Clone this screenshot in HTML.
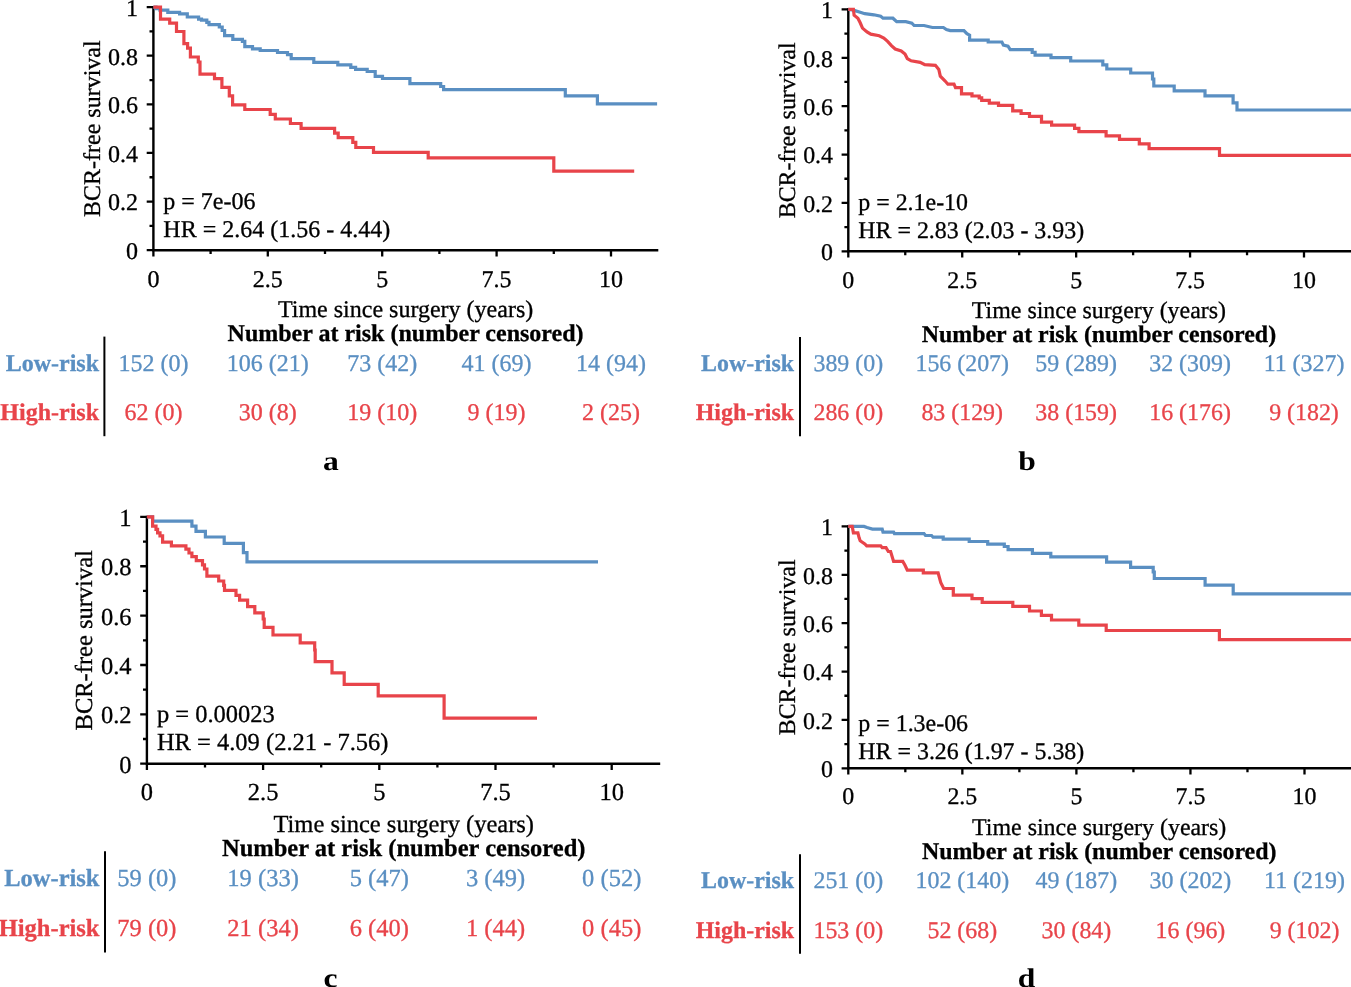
<!DOCTYPE html>
<html><head><meta charset="utf-8"><style>
html,body{margin:0;padding:0;background:#fff;}
svg{display:block;will-change:transform;}
text{font-family:"Liberation Serif", serif;fill:#000;stroke:#000;stroke-width:0.3px;text-rendering:geometricPrecision;}
.lt{font-size:27px;font-weight:bold;stroke-width:0;}
.bl{fill:#5a8fc2;stroke:#5a8fc2;}
.rd{fill:#e8444a;stroke:#e8444a;}
.ax{fill:none;stroke:#000;stroke-width:2.4;stroke-linecap:butt;stroke-linejoin:miter;}
.tk{fill:none;stroke:#000;stroke-width:2.3;}
.dv{fill:none;stroke:#000;stroke-width:2;}
.cv{fill:none;stroke-width:3.2;stroke-linejoin:miter;stroke-linecap:butt;}
</style></head><body>
<svg width="1351" height="987" viewBox="0 0 1351 987">
<rect width="1351" height="987" fill="#fff"/>
<g style="font-size:24px"><path d="M153.4 5.95V250.2H658.3" class="ax"/><path d="M146.7 250.2H153.4M149.5 225.89H153.4M146.7 201.58H153.4M149.5 177.27H153.4M146.7 152.96H153.4M149.5 128.65H153.4M146.7 104.34H153.4M149.5 80.03H153.4M146.7 55.72H153.4M149.5 31.41H153.4M146.7 7.1H153.4M153.4 250.2V256.5M210.6 250.2V254.1M267.8 250.2V256.5M325 250.2V254.1M382.2 250.2V256.5M439.4 250.2V254.1M496.6 250.2V256.5M553.8 250.2V254.1M611 250.2V256.5" class="tk"/><text x="138.1" y="259.1" text-anchor="end">0</text><text x="138.1" y="210.48" text-anchor="end">0.2</text><text x="138.1" y="161.86" text-anchor="end">0.4</text><text x="138.1" y="113.24" text-anchor="end">0.6</text><text x="138.1" y="64.62" text-anchor="end">0.8</text><text x="138.1" y="16" text-anchor="end">1</text><text x="153.4" y="286.7" text-anchor="middle">0</text><text x="267.8" y="286.7" text-anchor="middle">2.5</text><text x="382.2" y="286.7" text-anchor="middle">5</text><text x="496.6" y="286.7" text-anchor="middle">7.5</text><text x="611" y="286.7" text-anchor="middle">10</text><text x="405.58" y="317" text-anchor="middle">Time since surgery (years)</text><text x="405.58" y="341" text-anchor="middle" font-weight="bold">Number at risk (number censored)</text><text transform="translate(99.9 128.65) rotate(-90)" text-anchor="middle">BCR-free survival</text><text x="163.3" y="208.9">p = 7e-06</text><text x="163.3" y="236.7">HR = 2.64 (1.56 - 4.44)</text><text x="99" y="370.6" text-anchor="end" font-weight="bold" class="bl">Low-risk</text><text x="99" y="420.2" text-anchor="end" font-weight="bold" class="rd">High-risk</text><text x="153.4" y="370.6" text-anchor="middle" class="bl">152 (0)</text><text x="153.4" y="420.2" text-anchor="middle" class="rd">62 (0)</text><text x="267.8" y="370.6" text-anchor="middle" class="bl">106 (21)</text><text x="267.8" y="420.2" text-anchor="middle" class="rd">30 (8)</text><text x="382.2" y="370.6" text-anchor="middle" class="bl">73 (42)</text><text x="382.2" y="420.2" text-anchor="middle" class="rd">19 (10)</text><text x="496.6" y="370.6" text-anchor="middle" class="bl">41 (69)</text><text x="496.6" y="420.2" text-anchor="middle" class="rd">9 (19)</text><text x="611" y="370.6" text-anchor="middle" class="bl">14 (94)</text><text x="611" y="420.2" text-anchor="middle" class="rd">2 (25)</text><path d="M104.4 336.6V436.2" class="dv"/><text transform="translate(331 469.8) scale(1.17 1)" text-anchor="middle" class="lt">a</text><path d="M153.4,7.1 156,7.1 156,8.7 160,8.7 160,10.2 167.8,10.2 167.8,12.3 179.6,12.3 179.6,13.9 187.3,13.9 187.3,17 198.6,17 198.6,19.2 201.5,19.2 201.5,20.1 206.8,20.1 206.8,22.3 209,22.3 209,24.6 219.3,24.6 219.3,27 222.2,27 222.2,30.5 224.6,30.5 224.6,35.6 232.8,35.6 232.8,39.3 242.4,39.3 242.4,41.4 244.8,41.4 244.8,46.7 252.5,46.7 252.5,48.9 260.2,48.9 260.2,50.5 277.5,50.5 277.5,52.5 287.5,52.5 287.5,54.7 291.2,54.7 291.2,58.6 313.8,58.6 313.8,62.4 337.8,62.4 337.8,64.8 350.8,64.8 350.8,67.3 355.6,67.3 355.6,69.3 367.2,69.3 367.2,71.5 375.2,71.5 375.2,76.3 382.5,76.3 382.5,78.5 409.9,78.5 409.9,83.7 440.7,83.7 440.7,86.5 443.6,86.5 443.6,89.6 565.3,89.6 565.3,95.9 597.4,95.9 597.4,103.8 657.1,103.8" class="cv" stroke="#5a8fc2"/><path d="M153.4,7.1 160.5,7.1 160.5,19.1 169.7,19.1 169.7,23.1 176.5,23.1 176.5,31.5 183.9,31.5 183.9,43.7 187.6,43.7 187.6,48.1 190.4,48.1 190.4,57 198.3,57 198.3,62 200,62 200,74.1 214.5,74.1 214.5,78.7 221.9,78.7 221.9,87.4 229.3,87.4 229.3,95.9 232.6,95.9 232.6,104.8 244.8,104.8 244.8,109.5 270.2,109.5 270.2,114.4 275.3,114.4 275.3,119 290.4,119 290.4,123.5 301.1,123.5 301.1,128.3 334.6,128.3 334.6,133.2 338.2,133.2 338.2,137.7 352.8,137.7 352.8,142.4 355.8,142.4 355.8,147.5 373.5,147.5 373.5,152.4 428.2,152.4 428.2,157.9 553.8,157.9 553.8,171.1 634.2,171.1" class="cv" stroke="#e8444a"/></g><g style="font-size:23.9px"><path d="M848.3 8.25V251.3H1352" class="ax"/><path d="M841.6 251.3H848.3M844.4 227.11H848.3M841.6 202.92H848.3M844.4 178.73H848.3M841.6 154.54H848.3M844.4 130.35H848.3M841.6 106.16H848.3M844.4 81.97H848.3M841.6 57.78H848.3M844.4 33.59H848.3M841.6 9.4H848.3M848.3 251.3V257.6M905.26 251.3V255.2M962.22 251.3V257.6M1019.19 251.3V255.2M1076.15 251.3V257.6M1133.11 251.3V255.2M1190.07 251.3V257.6M1247.04 251.3V255.2M1304 251.3V257.6" class="tk"/><text x="833" y="260.2" text-anchor="end">0</text><text x="833" y="211.82" text-anchor="end">0.2</text><text x="833" y="163.44" text-anchor="end">0.4</text><text x="833" y="115.06" text-anchor="end">0.6</text><text x="833" y="66.68" text-anchor="end">0.8</text><text x="833" y="18.3" text-anchor="end">1</text><text x="848.3" y="287.7" text-anchor="middle">0</text><text x="962.22" y="287.7" text-anchor="middle">2.5</text><text x="1076.15" y="287.7" text-anchor="middle">5</text><text x="1190.07" y="287.7" text-anchor="middle">7.5</text><text x="1304" y="287.7" text-anchor="middle">10</text><text x="1098.93" y="318" text-anchor="middle">Time since surgery (years)</text><text x="1098.93" y="342" text-anchor="middle" font-weight="bold">Number at risk (number censored)</text><text transform="translate(794.8 130.35) rotate(-90)" text-anchor="middle">BCR-free survival</text><text x="858.3" y="209.9">p = 2.1e-10</text><text x="858.3" y="237.7">HR = 2.83 (2.03 - 3.93)</text><text x="794" y="370.9" text-anchor="end" font-weight="bold" class="bl">Low-risk</text><text x="794" y="420" text-anchor="end" font-weight="bold" class="rd">High-risk</text><text x="848.3" y="370.9" text-anchor="middle" class="bl">389 (0)</text><text x="848.3" y="420" text-anchor="middle" class="rd">286 (0)</text><text x="962.22" y="370.9" text-anchor="middle" class="bl">156 (207)</text><text x="962.22" y="420" text-anchor="middle" class="rd">83 (129)</text><text x="1076.15" y="370.9" text-anchor="middle" class="bl">59 (289)</text><text x="1076.15" y="420" text-anchor="middle" class="rd">38 (159)</text><text x="1190.07" y="370.9" text-anchor="middle" class="bl">32 (309)</text><text x="1190.07" y="420" text-anchor="middle" class="rd">16 (176)</text><text x="1304" y="370.9" text-anchor="middle" class="bl">11 (327)</text><text x="1304" y="420" text-anchor="middle" class="rd">9 (182)</text><path d="M800 337V436.2" class="dv"/><text transform="translate(1027 469.8) scale(1.17 1)" text-anchor="middle" class="lt">b</text><path d="M848.3,9.4 852,10 854.9,10.6 860.2,12.2 864.8,13.7 873.9,14.8 880.7,16.3 883,18.2 892.9,18.2 896.7,21.7 905.8,21.7 911.9,23.2 914.1,25.5 924,25.5 932.4,27.5 943.4,27.5 946.4,29.5 950.2,30.6 963.9,30.6 966.9,33.7 969.6,35.2 969.6,40.1 988.2,40.1 988.2,42 1001.9,42 1003.4,45.1 1008,46.2 1010.2,49.6 1032.2,49.6 1032.2,52.4 1035.1,52.4 1035.1,55.2 1051,55.2 1051,57.7 1070.7,57.7 1070.7,61 1102.8,61 1102.8,64.8 1106.8,64.8 1106.8,69 1130.7,69 1130.7,73 1152.5,73 1152.5,79 1153.8,79 1153.8,86 1174.2,86 1174.2,90.8 1205,90.8 1205,95.9 1233.1,95.9 1233.1,102.8 1237,102.8 1237,110 1352,110" class="cv" stroke="#5a8fc2"/><path d="M848.3,9.4 853.4,9.4 854.1,15.2 857.9,18.2 860.2,22.8 862.5,28.1 867,31.9 870.8,34.2 879.2,35.7 883.8,38 887.6,41.4 891.4,45.6 895.2,49 901.2,50.9 905,54 907.3,58.5 911.1,60.8 920.2,62.3 924.8,64.6 935.4,65.3 938.8,69.4 940.3,76.2 944.9,80.8 947.9,84.2 954,84.2 955.5,87.6 961.5,87.6 961.5,93.8 972,93.8 972,96 979.2,96 979.2,97.9 981.7,97.9 981.7,100.3 989.3,100.3 989.3,103.1 998.5,103.1 998.5,105.4 1012.7,105.4 1012.7,110.8 1021.1,110.8 1021.1,113.5 1029.5,113.5 1029.5,116.4 1041.5,116.4 1041.5,122.2 1051.6,122.2 1051.6,125.2 1074.6,125.2 1074.6,128.4 1078.9,128.4 1078.9,131.7 1106.1,131.7 1106.1,135.8 1119.5,135.8 1119.5,139.3 1139.3,139.3 1139.3,143.8 1149.1,143.8 1149.1,148.7 1219.5,148.7 1219.5,155.3 1352,155.3" class="cv" stroke="#e8444a"/></g><g style="font-size:24.5px"><path d="M146.9 515.75V763.7H660.2" class="ax"/><path d="M140.2 763.7H146.9M143 739.02H146.9M140.2 714.34H146.9M143 689.66H146.9M140.2 664.98H146.9M143 640.3H146.9M140.2 615.62H146.9M143 590.94H146.9M140.2 566.26H146.9M143 541.58H146.9M140.2 516.9H146.9M146.9 763.7V770M205 763.7V767.6M263.1 763.7V770M321.2 763.7V767.6M379.3 763.7V770M437.4 763.7V767.6M495.5 763.7V770M553.6 763.7V767.6M611.7 763.7V770" class="tk"/><text x="131.6" y="772.6" text-anchor="end">0</text><text x="131.6" y="723.24" text-anchor="end">0.2</text><text x="131.6" y="673.88" text-anchor="end">0.4</text><text x="131.6" y="624.52" text-anchor="end">0.6</text><text x="131.6" y="575.16" text-anchor="end">0.8</text><text x="131.6" y="525.8" text-anchor="end">1</text><text x="146.9" y="800.2" text-anchor="middle">0</text><text x="263.1" y="800.2" text-anchor="middle">2.5</text><text x="379.3" y="800.2" text-anchor="middle">5</text><text x="495.5" y="800.2" text-anchor="middle">7.5</text><text x="611.7" y="800.2" text-anchor="middle">10</text><text x="403.74" y="831.6" text-anchor="middle">Time since surgery (years)</text><text x="403.74" y="856.4" text-anchor="middle" font-weight="bold">Number at risk (number censored)</text><text transform="translate(92.4 640.3) rotate(-90)" text-anchor="middle">BCR-free survival</text><text x="156.9" y="722">p = 0.00023</text><text x="156.9" y="750">HR = 4.09 (2.21 - 7.56)</text><text x="99.5" y="886.2" text-anchor="end" font-weight="bold" class="bl">Low-risk</text><text x="99.5" y="936.4" text-anchor="end" font-weight="bold" class="rd">High-risk</text><text x="146.9" y="886.2" text-anchor="middle" class="bl">59 (0)</text><text x="146.9" y="936.4" text-anchor="middle" class="rd">79 (0)</text><text x="263.1" y="886.2" text-anchor="middle" class="bl">19 (33)</text><text x="263.1" y="936.4" text-anchor="middle" class="rd">21 (34)</text><text x="379.3" y="886.2" text-anchor="middle" class="bl">5 (47)</text><text x="379.3" y="936.4" text-anchor="middle" class="rd">6 (40)</text><text x="495.5" y="886.2" text-anchor="middle" class="bl">3 (49)</text><text x="495.5" y="936.4" text-anchor="middle" class="rd">1 (44)</text><text x="611.7" y="886.2" text-anchor="middle" class="bl">0 (52)</text><text x="611.7" y="936.4" text-anchor="middle" class="rd">0 (45)</text><path d="M105 851.3V952.5" class="dv"/><text transform="translate(330.5 986.8) scale(1.17 1)" text-anchor="middle" class="lt">c</text><path d="M146.9,516.9 152.6,516.9 152.6,521.1 191.9,521.1 191.9,526.1 196,526.1 196,531.4 205.4,531.4 205.4,537 224.2,537 224.2,543.3 243.4,543.3 243.4,552.7 247,552.7 247,561.8 598,561.8" class="cv" stroke="#5a8fc2"/><path d="M146.9,516.9 152.6,516.9 152.6,526.1 156,526.1 156,529.4 157.6,529.4 157.6,532.8 160,532.8 160,535.9 162.6,535.9 162.6,542.1 171.4,542.1 171.4,545.8 185.9,545.8 185.9,549.1 189,549.1 189,553 191.9,553 191.9,556.6 196.3,556.6 196.3,560.6 202.5,560.6 202.5,564.9 204.5,564.9 204.5,569 206.9,569 206.9,576.2 218.7,576.2 218.7,581 223.7,581 223.7,585.4 224.5,585.4 224.5,590.4 236,590.4 236,595.3 239.6,595.3 239.6,600.1 247.6,600.1 247.6,606.6 254.8,606.6 254.8,612.8 263.2,612.8 263.2,619 264.2,619 264.2,627.4 273,627.4 273,635 300.2,635 300.2,642.8 314.7,642.8 314.7,650 315.2,650 315.2,661.6 332,661.6 332,672.8 344.2,672.8 344.2,684.3 378.2,684.3 378.2,695.9 444.1,695.9 444.1,718.1 537,718.1" class="cv" stroke="#e8444a"/></g><g style="font-size:23.92px"><path d="M848.3 525.25V768.3H1352" class="ax"/><path d="M841.6 768.3H848.3M844.4 744.11H848.3M841.6 719.92H848.3M844.4 695.73H848.3M841.6 671.54H848.3M844.4 647.35H848.3M841.6 623.16H848.3M844.4 598.97H848.3M841.6 574.78H848.3M844.4 550.59H848.3M841.6 526.4H848.3M848.3 768.3V774.6M905.32 768.3V772.2M962.35 768.3V774.6M1019.38 768.3V772.2M1076.4 768.3V774.6M1133.42 768.3V772.2M1190.45 768.3V774.6M1247.47 768.3V772.2M1304.5 768.3V774.6" class="tk"/><text x="833" y="777.2" text-anchor="end">0</text><text x="833" y="728.82" text-anchor="end">0.2</text><text x="833" y="680.44" text-anchor="end">0.4</text><text x="833" y="632.06" text-anchor="end">0.6</text><text x="833" y="583.68" text-anchor="end">0.8</text><text x="833" y="535.3" text-anchor="end">1</text><text x="848.3" y="804.4" text-anchor="middle">0</text><text x="962.35" y="804.4" text-anchor="middle">2.5</text><text x="1076.4" y="804.4" text-anchor="middle">5</text><text x="1190.45" y="804.4" text-anchor="middle">7.5</text><text x="1304.5" y="804.4" text-anchor="middle">10</text><text x="1099.21" y="834.8" text-anchor="middle">Time since surgery (years)</text><text x="1099.21" y="859.3" text-anchor="middle" font-weight="bold">Number at risk (number censored)</text><text transform="translate(794.8 647.35) rotate(-90)" text-anchor="middle">BCR-free survival</text><text x="858.3" y="731">p = 1.3e-06</text><text x="858.3" y="758.5">HR = 3.26 (1.97 - 5.38)</text><text x="794" y="888.1" text-anchor="end" font-weight="bold" class="bl">Low-risk</text><text x="794" y="937.7" text-anchor="end" font-weight="bold" class="rd">High-risk</text><text x="848.3" y="888.1" text-anchor="middle" class="bl">251 (0)</text><text x="848.3" y="937.7" text-anchor="middle" class="rd">153 (0)</text><text x="962.35" y="888.1" text-anchor="middle" class="bl">102 (140)</text><text x="962.35" y="937.7" text-anchor="middle" class="rd">52 (68)</text><text x="1076.4" y="888.1" text-anchor="middle" class="bl">49 (187)</text><text x="1076.4" y="937.7" text-anchor="middle" class="rd">30 (84)</text><text x="1190.45" y="888.1" text-anchor="middle" class="bl">30 (202)</text><text x="1190.45" y="937.7" text-anchor="middle" class="rd">16 (96)</text><text x="1304.5" y="888.1" text-anchor="middle" class="bl">11 (219)</text><text x="1304.5" y="937.7" text-anchor="middle" class="rd">9 (102)</text><path d="M800 854.2V953.7" class="dv"/><text transform="translate(1026.5 986.8) scale(1.17 1)" text-anchor="middle" class="lt">d</text><path d="M848.3,526.4 864,526.4 867,527.5 872.4,529.1 882.2,529.1 883,532.1 893.6,532.1 894.4,533.6 924,533.6 925.5,535.5 931.6,535.5 933.1,537.2 943.2,537.2 943.2,539.2 969.2,539.2 969.2,541.5 987.7,541.5 987.7,544.1 1004.3,544.1 1004.3,546.5 1008.1,546.5 1008.1,549.7 1032.4,549.7 1032.4,553.3 1050.8,553.3 1050.8,556.9 1106.6,556.9 1106.6,562.2 1130.6,562.2 1130.6,567.4 1153.2,567.4 1153.2,572 1154.3,572 1154.3,578.5 1205.1,578.5 1205.1,585.2 1233.2,585.2 1233.2,593.8 1352,593.8" class="cv" stroke="#5a8fc2"/><path d="M848.3,526.4 852.2,526.4 853.4,532.9 857.9,532.9 859.1,537.8 860.2,540.8 864.8,543.9 866.7,545.8 880.7,545.8 882.2,547.7 886,547.7 888.3,551.5 890.6,551.5 893.6,561.4 902.8,561.4 905,565.2 907.3,570.1 923.3,570.1 923.3,572.8 938.1,572.8 940.8,582.7 943.7,588.5 953.3,588.5 953.3,595.2 972,595.2 972,598.6 982.2,598.6 982.2,602.4 1012.8,602.4 1012.8,606.3 1029.5,606.3 1029.5,611 1041.4,611 1041.4,615.4 1051.5,615.4 1051.5,620 1078.8,620 1078.8,625.1 1106.2,625.1 1106.2,630.5 1219.4,630.5 1219.4,639.6 1352,639.6" class="cv" stroke="#e8444a"/></g>
</svg></body></html>
